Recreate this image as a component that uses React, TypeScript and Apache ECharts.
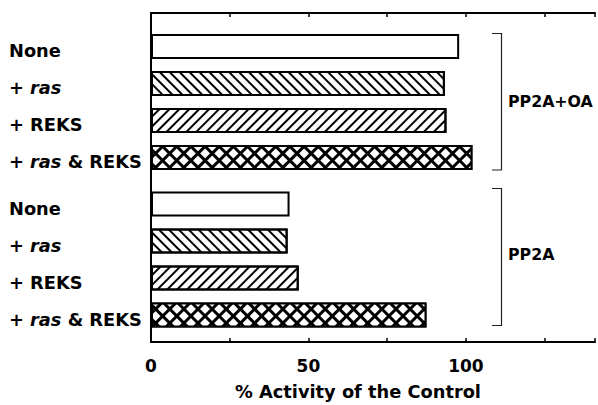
import React, { useEffect, useRef } from "react";
import * as echarts from "echarts";

const rowLabels = ["None", "+ ras", "+ REKS", "+ ras & REKS"];
const pp2aOA = [97.2, 92.7, 93.2, 101.4];
const pp2a = [43.7, 43.1, 46.6, 86.9];
const groupLabels = ["PP2A+OA", "PP2A"];
const xTickLabels = [0, 50, 100];
const xMax = 141;
const xInterval = 25;

const FONT = "DejaVu Sans";

const white = { color: "#fff", borderColor: "#000", borderWidth: 2 };
const hatch = (rot: number) => ({
  color: "#fff",
  borderColor: "#000",
  borderWidth: 2,
  decal: {
    symbol: "rect",
    color: "#000",
    dashArrayX: [1, 0],
    dashArrayY: [1.8, 4.5],
    rotation: rot,
  },
});
const cross = {
  color: "#000",
  borderColor: "#000",
  borderWidth: 2,
  decal: {
    symbol: "rect",
    color: "#fff",
    dashArrayX: [6.4, 2.7],
    dashArrayY: [6.4, 2.7],
    rotation: Math.PI / 4,
  },
};
const styles = [white, hatch(Math.PI / 4), hatch(-Math.PI / 4), cross];

const labelStyle = {
  fontFamily: FONT,
  fontWeight: "bold" as const,
  fontSize: 17.8,
  color: "#000",
};

function barYAxis(gridIndex: number) {
  return {
    type: "category",
    gridIndex,
    inverse: true,
    data: rowLabels,
    axisLine: { show: false },
    axisTick: { show: false },
    axisLabel: {
      align: "left",
      margin: 142,
      padding: [8, 0, 0, 0],
      ...labelStyle,
      formatter: (v: string) => v.replace("ras", "{i|ras}"),
      rich: {
        i: { ...labelStyle, fontStyle: "italic" },
      },
    },
  };
}

export default function App() {
  const ref = useRef<HTMLDivElement>(null);
  useEffect(() => {
    if (!ref.current) return;
    const chart = echarts.init(ref.current, undefined, { renderer: "svg" });
    const mkData = (vals: number[]) =>
      vals.map((v, i) => ({ value: v, itemStyle: styles[i] }));
    chart.setOption({
      animation: false,
      backgroundColor: "#fff",
      grid: [
        { left: 151, right: 0, top: 13, bottom: 56 },
        { left: 151, right: 0, top: 28, height: 148 },
        { left: 151, right: 0, top: 185.5, height: 148 },
      ],
      xAxis: [
        {
          type: "value",
          gridIndex: 0,
          position: "bottom",
          min: 0,
          max: xMax,
          interval: xInterval,
          splitLine: { show: false },
          axisLine: { show: true, lineStyle: { color: "#000", width: 2 } },
          axisTick: { show: true, inside: true, length: 4, lineStyle: { color: "#000", width: 1.5 } },
          axisLabel: {
            margin: 15,
            ...labelStyle,
            fontSize: 17,
            formatter: (v: number) => (xTickLabels.includes(v) ? String(v) : ""),
          },
          name: "% Activity of the Control",
          nameLocation: "middle",
          nameGap: 40,
          nameTextStyle: { ...labelStyle, fontSize: 17.8, padding: [0, 30, 0, 0] },
        },
        {
          type: "value",
          gridIndex: 0,
          position: "top",
          min: 0,
          max: xMax,
          interval: xInterval,
          splitLine: { show: false },
          axisLine: { show: true, lineStyle: { color: "#000", width: 2 } },
          axisTick: { show: true, inside: true, length: 4, lineStyle: { color: "#000", width: 1.5 } },
          axisLabel: { show: false },
        },
        { type: "value", gridIndex: 1, min: 0, max: xMax, show: false },
        { type: "value", gridIndex: 2, min: 0, max: xMax, show: false },
      ],
      yAxis: [
        {
          type: "value",
          gridIndex: 0,
          min: 0,
          max: 1,
          axisLine: { show: true, lineStyle: { color: "#000", width: 2 } },
          axisTick: { show: false },
          axisLabel: { show: false },
          splitLine: { show: false },
        },
        barYAxis(1),
        barYAxis(2),
      ],
      series: [
        {
          type: "bar",
          xAxisIndex: 2,
          yAxisIndex: 1,
          barWidth: 25,
          data: mkData(pp2aOA),
        },
        {
          type: "bar",
          xAxisIndex: 3,
          yAxisIndex: 2,
          barWidth: 25,
          data: mkData(pp2a),
        },
      ],
      graphic: [
        {
          type: "polyline",
          shape: { points: [[492, 33.5], [501.5, 33.5], [501.5, 170], [492, 170]] },
          style: { stroke: "#222", lineWidth: 1.2, fill: "none" },
        },
        {
          type: "polyline",
          shape: { points: [[492, 188.5], [501.5, 188.5], [501.5, 325.5], [492, 325.5]] },
          style: { stroke: "#222", lineWidth: 1.2, fill: "none" },
        },
        {
          type: "text",
          x: 508,
          y: 101,
          style: { text: groupLabels[0], ...labelStyle, fontSize: 15.8, fill: "#000", verticalAlign: "middle" },
        },
        {
          type: "text",
          x: 508,
          y: 254,
          style: { text: groupLabels[1], ...labelStyle, fontSize: 15.8, fill: "#000", verticalAlign: "middle" },
        },
      ],
    });
    return () => chart.dispose();
  }, []);
  return <div ref={ref} style={{ width: 598, height: 405, position: "absolute", left: 0, top: 0 }} />;
}
